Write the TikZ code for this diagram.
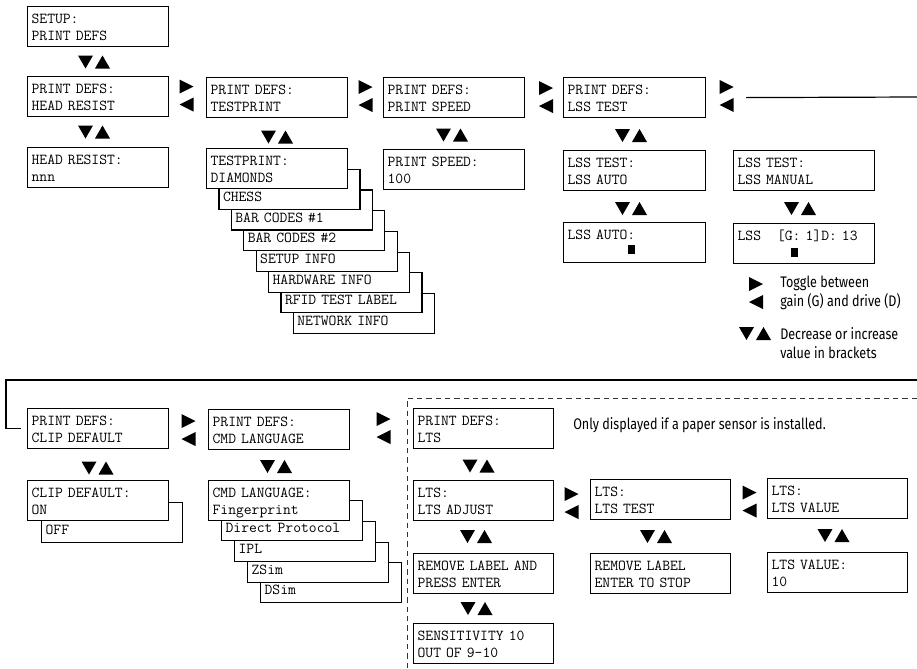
\documentclass[tikz,border=0pt]{standalone}
\usepackage{fontspec}
\newfontfamily\lblfont[FakeStretch=0.82]{Fira Sans}
\newcommand\mybox[5]{\pgfmathsetlengthmacro\mywd{(#4-#2)*0.75pt-6pt}\node[box, text width=\mywd] (#1) at (#2,#3) {#5};}
\newcommand\mystack[4]{\pgfmathsetlengthmacro\mywd{141*0.75pt-6pt}\pgfmathsetmacro\mytop{#3-40}\node[sbox, text width=\mywd] (#1) at (#2,\mytop) {#4};}
\begin{document}
\begin{tikzpicture}[x=0.75pt,y=-0.75pt,
  box/.style={draw, line width=0.9pt, fill=white, anchor=north west, inner xsep=3pt, inner ysep=0pt,
    text height=12.4pt, text depth=17.6pt, font=\ttfamily\fontsize{11.4pt}{12.75pt}\selectfont, align=left},
  sbox/.style={box, text height=24pt, text depth=6pt},
  lbl/.style={font=\lblfont\fontsize{11.5pt}{14.25pt}\selectfont, inner sep=0pt, align=left, anchor=west},
  cursor/.style={fill=black, minimum width=5.25pt, minimum height=6.75pt, inner sep=0pt},
  conn/.style={line width=0.9pt},
  dashline/.style={line width=0.6pt, dash pattern=on 4pt off 3pt, black!80},
  vud/.pic={\fill (-16,-6.5) -- (-1,-6.5) -- (-8.5,6.5) -- cycle; \fill (1,6.5) -- (16,6.5) -- (8.5,-6.5) -- cycle;},
  hlr/.pic={\fill (-7,-16) -- (-7,-2) -- (7,-9) -- cycle; \fill (7,2) -- (7,16) -- (-7,9) -- cycle;}
]
\useasboundingbox (0,0) rectangle (917,668);

% ---- top row ----
\mybox{setup}{27}{6}{168}{SETUP:\\PRINT DEFS}
\mybox{headres}{27}{76}{168}{PRINT DEFS:\\HEAD RESIST}
\mybox{nnn}{27}{147}{168}{HEAD RESIST:\\nnn}
\mybox{testprint}{206}{77}{347}{PRINT DEFS:\\TESTPRINT}
\mystack{netinfo}{292.8}{332.9}{NETWORK INFO}
\mystack{rfid}{280.4}{312.2}{RFID TEST LABEL}
\mystack{hwinfo}{268}{291.5}{HARDWARE INFO}
\mystack{setupinfo}{255.6}{270.8}{SETUP INFO}
\mystack{bctwo}{243.2}{250.1}{BAR CODES \#2}
\mystack{bcone}{230.8}{229.4}{BAR CODES \#1}
\mystack{chess}{218.4}{208.7}{CHESS}
\mybox{diamonds}{206}{148}{347}{TESTPRINT:\\DIAMONDS}
\mybox{pspeed}{383}{77}{524}{PRINT DEFS:\\PRINT SPEED}
\mybox{speed}{383}{149}{524}{PRINT SPEED:\\100}
\mybox{lsstest}{563}{77}{705}{PRINT DEFS:\\LSS TEST}
\mybox{lssauto}{563}{150}{705}{LSS TEST:\\LSS AUTO}
\mybox{lssman}{733}{150}{874}{LSS TEST:\\LSS MANUAL}
\mybox{autoval}{563}{222}{705}{LSS AUTO:}
\mybox{gdval}{733}{223}{874}{LSS\hspace*{1.05em}[G: 1]D: 13}
\node[cursor] (cur1) at (631,249) {};
\node[cursor] (cur2) at (794,252) {};

\pic at (94,62) {vud};
\pic at (94,132) {vud};
\pic at (277,137) {vud};
\pic at (452,135) {vud};
\pic at (631,135.5) {vud};
\pic at (631,208.5) {vud};
\pic at (800,208.5) {vud};
\pic at (186.5,95.5) {hlr};
\pic at (365.5,96) {hlr};
\pic at (546,97) {hlr};
\pic at (726.5,96) {hlr};

% legend
\pic at (756,293) {hlr};
\node[lbl] (toggle) at (780,292.5) {Toggle between\\gain (G) and drive (D)};
\pic at (755,333.5) {vud};
\node[lbl] (decr) at (780,343.5) {Decrease or increase\\value in brackets};

% ---- bottom row ----
\mybox{clip}{27}{408}{168}{PRINT DEFS:\\CLIP DEFAULT}
\mystack{off}{41}{542}{OFF}
\mybox{clipon}{27}{480}{168}{CLIP DEFAULT:\\ON}
\mybox{cmd}{208}{409}{349}{PRINT DEFS:\\CMD LANGUAGE}
\mystack{dsim}{260}{602}{DSim}
\mystack{zsim}{247}{582}{ZSim}
\mystack{ipl}{234}{561}{IPL}
\mystack{direct}{221}{540}{Direct Protocol}
\mybox{finger}{208}{480}{349}{CMD LANGUAGE:\\Fingerprint}

% wrap connector
\coordinate (wrapA) at (917,97);
\coordinate (wrapB) at (917,380);
\coordinate (wrapC) at (6,380);
\draw[conn] ([xshift=30pt]lsstest.east) -- (wrapA);
\draw[conn] (wrapB) -- (wrapC) |- ([xshift=-4.5pt]clip.west);

\pic at (97.5,468) {vud};
\pic at (276,466.5) {vud};
\pic at (188.5,430) {hlr};
\pic at (383.5,428) {hlr};

% dashed optional region
\coordinate (dashR) at (917,398);
\coordinate (dashC) at (407,398);
\coordinate (dashB) at (407,668);
\draw[dashline] (dashR) -- (dashC) -- (dashB);

\mybox{lts}{413}{408}{553}{PRINT DEFS:\\LTS}
\node[lbl] (note) at (573,425) {Only displayed if a paper sensor is installed.};
\mybox{adjust}{413}{480}{553}{LTS:\\LTS ADJUST}
\mybox{ltstest}{590}{479}{730}{LTS:\\LTS TEST}
\mybox{ltsvalue}{767}{478}{907}{LTS:\\LTS VALUE}
\mybox{remove}{413}{553}{553}{REMOVE LABEL AND\\PRESS ENTER}
\mybox{removestop}{590}{553}{730}{REMOVE LABEL\\ENTER TO STOP}
\mybox{valueten}{767}{552}{907}{LTS VALUE:\\10}
\mybox{sens}{413}{623}{553}{SENSITIVITY 10\\OUT OF 9-10}

\pic at (478.5,466) {vud};
\pic at (476,536.5) {vud};
\pic at (656,536.5) {vud};
\pic at (833.5,535.5) {vud};
\pic at (476.5,608.5) {vud};
\pic at (571.5,503) {hlr};
\pic at (749.5,501.5) {hlr};
\end{tikzpicture}
\end{document}
